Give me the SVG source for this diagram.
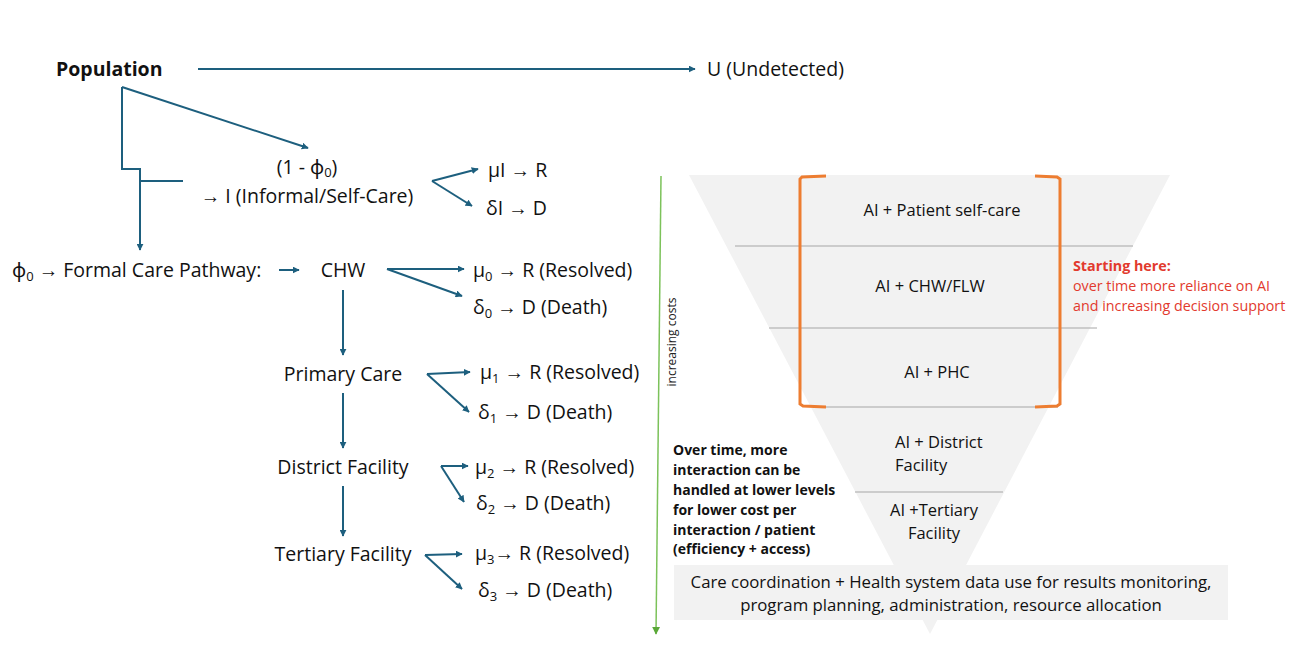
<svg xmlns="http://www.w3.org/2000/svg" width="1297" height="661" viewBox="0 0 1297 661">
<defs>
<marker id="ah" viewBox="0 0 10 10" refX="9" refY="5" markerWidth="7" markerHeight="7" markerUnits="userSpaceOnUse" orient="auto"><path d="M0,0 L10,5 L0,10 z" fill="#1d5f7e"/></marker>
<marker id="ag" viewBox="0 0 10 10" refX="9" refY="5" markerWidth="8" markerHeight="8" markerUnits="userSpaceOnUse" orient="auto"><path d="M0,0 L10,5 L0,10 z" fill="#5aa838"/></marker>
<style>
.t{font-family:"Open Sans","Noto Sans","Liberation Sans",sans-serif;font-size:19.5px;fill:#111}
.c{stroke:#1d5f7e;stroke-width:2;fill:none}
.s{font-size:13px}
.f{font-family:"Open Sans","Liberation Sans",sans-serif;font-size:16.5px;fill:#111}
.g{font-family:"Open Sans","Liberation Sans",sans-serif;font-size:16.8px;fill:#111}
.b{font-family:"Open Sans","Liberation Sans",sans-serif;font-size:14px;font-weight:bold;fill:#111}
.r{font-family:"Open Sans","Liberation Sans",sans-serif;font-size:14.3px;fill:#e23a2e}
.sep{stroke:#a6a6a6;stroke-width:1}
.br{stroke:#ed7d31;stroke-width:3;fill:none}
</style>
</defs>
<rect width="1297" height="661" fill="#fff"/>
<g id="funnel">
<polygon points="689,175 1170,175 930,634" fill="#f2f2f2"/>
<line class="sep" x1="735" y1="246" x2="1133" y2="246"/>
<line class="sep" x1="769" y1="328" x2="1097" y2="328"/>
<line class="sep" x1="815" y1="407" x2="1058" y2="407"/>
<line class="sep" x1="855" y1="492" x2="1003" y2="492"/>
<path class="br" d="M826,176 L802,177 L800,179 L800,404 L803,406 L826,407"/>
<path class="br" d="M1035,176 L1057,177 L1060,179 L1060,404 L1057,406 L1035,407"/>
<text class="f" x="942" y="216" text-anchor="middle">AI + Patient self-care</text>
<text class="f" x="930" y="292" text-anchor="middle">AI + CHW/FLW</text>
<text class="f" x="937" y="378" text-anchor="middle">AI + PHC</text>
<text class="f" x="895" y="448">AI + District</text>
<text class="f" x="895" y="471">Facility</text>
<text class="f" x="934" y="516" text-anchor="middle">AI +Tertiary</text>
<text class="f" x="934" y="539" text-anchor="middle">Facility</text>
</g>
<g id="data-box">
<rect x="674" y="565" width="554" height="55" fill="#f2f2f2"/>
<text class="g" x="951" y="588" text-anchor="middle">Care coordination + Health system data use for results monitoring,</text>
<text class="g" x="951" y="611" text-anchor="middle">program planning, administration, resource allocation</text>
</g>
<g id="starting-note">
<text class="r" x="1073" y="271" font-weight="bold">Starting here:</text>
<text class="r" x="1073" y="291">over time more reliance on AI</text>
<text class="r" x="1073" y="311">and increasing decision support</text>
</g>
<g id="over-time-note">
<text class="b" x="673" y="455">Over time, more</text>
<text class="b" x="673" y="475">interaction can be</text>
<text class="b" x="673" y="495">handled at lower levels</text>
<text class="b" x="673" y="515">for lower cost per</text>
<text class="b" x="673" y="535">interaction / patient</text>
<text class="b" x="673" y="554">(efficiency + access)</text>
</g>
<g id="cost-axis">
<line x1="661" y1="176" x2="656" y2="634" stroke="#7cc25a" stroke-width="1.5" marker-end="url(#ag)"/>
<text x="676" y="342" transform="rotate(-90 676 342)" text-anchor="middle" font-family="Open Sans, Liberation Sans, sans-serif" font-size="12" fill="#222">increasing  costs</text>
</g>
<g id="population"><text class="t" x="56" y="76" font-weight="bold">Population</text></g>
<g id="undetected"><text class="t" x="707" y="76">U (Undetected)</text></g>
<g id="informal">
<text class="t" x="307" y="174" text-anchor="middle">(1 - ϕ<tspan class="s" dy="3">0</tspan><tspan dy="-3">)</tspan></text>
<text class="t" x="307" y="203" text-anchor="middle">→ I (Informal/Self-Care)</text>
</g>
<g id="informal-out">
<text class="t" x="488" y="177">μI → R</text>
<text class="t" x="486" y="215">δI → D</text>
</g>
<g id="formal"><text class="t" x="12" y="277">ϕ<tspan class="s" dy="4">0</tspan><tspan dy="-4"> → Formal Care Pathway:</tspan></text></g>
<g id="chw"><text class="t" x="343" y="277" text-anchor="middle">CHW</text></g>
<g id="chw-out">
<text class="t" x="473" y="277">μ<tspan class="s" dy="4">0</tspan><tspan dy="-4"> → R (Resolved)</tspan></text>
<text class="t" x="473" y="314">δ<tspan class="s" dy="4">0</tspan><tspan dy="-4"> → D (Death)</tspan></text>
</g>
<g id="primary"><text class="t" x="343" y="381" text-anchor="middle">Primary Care</text></g>
<g id="primary-out">
<text class="t" x="480" y="379">μ<tspan class="s" dy="4">1</tspan><tspan dy="-4"> → R (Resolved)</tspan></text>
<text class="t" x="478" y="419">δ<tspan class="s" dy="4">1</tspan><tspan dy="-4"> → D (Death)</tspan></text>
</g>
<g id="district"><text class="t" x="343" y="474" text-anchor="middle">District Facility</text></g>
<g id="district-out">
<text class="t" x="475" y="474">μ<tspan class="s" dy="4">2</tspan><tspan dy="-4"> → R (Resolved)</tspan></text>
<text class="t" x="476" y="510">δ<tspan class="s" dy="4">2</tspan><tspan dy="-4"> → D (Death)</tspan></text>
</g>
<g id="tertiary"><text class="t" x="343" y="561" text-anchor="middle">Tertiary Facility</text></g>
<g id="tertiary-out">
<text class="t" x="475" y="560">μ<tspan class="s" dy="4">3</tspan><tspan dy="-4">→ R (Resolved)</tspan></text>
<text class="t" x="478" y="597">δ<tspan class="s" dy="4">3</tspan><tspan dy="-4"> → D (Death)</tspan></text>
</g>
<g id="connectors">
<line class="c" x1="198" y1="69" x2="695" y2="69" marker-end="url(#ah)"/>
<line class="c" x1="122" y1="87" x2="308" y2="148" marker-end="url(#ah)"/>
<polyline class="c" points="122,87 122,169 140,169 140,250" marker-end="url(#ah)"/>
<line class="c" x1="140" y1="181" x2="183" y2="181"/>
<line class="c" x1="432" y1="181" x2="478" y2="169" marker-end="url(#ah)"/>
<line class="c" x1="432" y1="181" x2="472" y2="206" marker-end="url(#ah)"/>
<line class="c" x1="279" y1="270" x2="299" y2="270" marker-end="url(#ah)"/>
<line class="c" x1="387" y1="269" x2="464" y2="269" marker-end="url(#ah)"/>
<line class="c" x1="387" y1="269" x2="462" y2="296" marker-end="url(#ah)"/>
<line class="c" x1="343" y1="290" x2="343" y2="355" marker-end="url(#ah)"/>
<line class="c" x1="427" y1="374" x2="470" y2="372" marker-end="url(#ah)"/>
<line class="c" x1="427" y1="374" x2="469" y2="412" marker-end="url(#ah)"/>
<line class="c" x1="343" y1="393" x2="343" y2="448" marker-end="url(#ah)"/>
<line class="c" x1="441" y1="466" x2="468" y2="466" marker-end="url(#ah)"/>
<line class="c" x1="441" y1="466" x2="464" y2="502" marker-end="url(#ah)"/>
<line class="c" x1="343" y1="486" x2="343" y2="536" marker-end="url(#ah)"/>
<line class="c" x1="425" y1="555" x2="462" y2="554" marker-end="url(#ah)"/>
<line class="c" x1="425" y1="555" x2="462" y2="589" marker-end="url(#ah)"/>
</g>
</svg>
